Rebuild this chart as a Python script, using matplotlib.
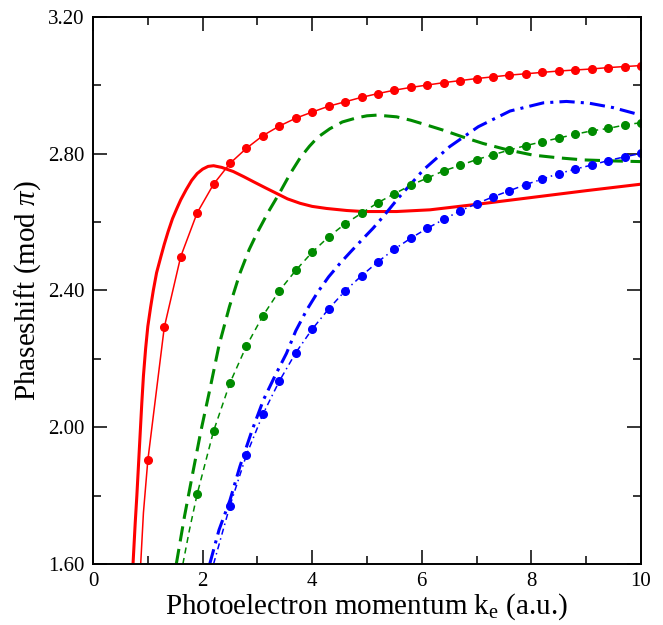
import numpy as np
import matplotlib.pyplot as plt
from matplotlib.ticker import MultipleLocator, FormatStrFormatter

plt.rcParams['font.family'] = ['Liberation Serif', 'DejaVu Serif']
plt.rcParams['mathtext.fontset'] = 'custom'
plt.rcParams['mathtext.rm'] = 'Liberation Serif'
plt.rcParams['mathtext.it'] = 'Liberation Serif:italic'

# momentum grid of the sampled (dotted) curves
k_grid = [1.0, 1.3, 1.6, 1.9, 2.2, 2.5, 2.8, 3.1, 3.4, 3.7,
          4.0, 4.3, 4.6, 4.9, 5.2, 5.5, 5.8, 6.1, 6.4, 6.7,
          7.0, 7.3, 7.6, 7.9, 8.2, 8.5, 8.8, 9.1, 9.4, 9.7, 10.0]

red_pts = [1.903, 2.292, 2.499, 2.627, 2.711, 2.772, 2.816, 2.853, 2.881, 2.904,
           2.922, 2.939, 2.952, 2.965, 2.976, 2.986, 2.994, 3.001, 3.008, 3.014,
           3.020, 3.025, 3.030, 3.034, 3.038, 3.042, 3.045, 3.048, 3.052, 3.055, 3.058]
green_pts = [1.804, 1.989, 2.130, 2.238, 2.326, 2.399, 2.459,
             2.512, 2.557, 2.595, 2.626, 2.657, 2.683, 2.708, 2.729, 2.750, 2.766,
             2.783, 2.797, 2.811, 2.824, 2.835, 2.846, 2.857, 2.867, 2.874, 2.884, 2.891]
blue_pts = [1.771, 1.919, 2.038, 2.135, 2.218,
            2.287, 2.346, 2.399, 2.443, 2.484, 2.521, 2.553, 2.582, 2.608, 2.633,
            2.654, 2.674, 2.692, 2.710, 2.726, 2.742, 2.755, 2.767, 2.780, 2.791, 2.801]

# lower ends of the thin lines, below the first sample
red_tail_k, red_tail_v = [0.87, 0.92], [1.60, 1.75]
green_tail_k, green_tail_v = [1.64, 1.76], [1.60, 1.70]
blue_tail_k, blue_tail_v = [2.20, 2.34], [1.60, 1.68]

# full calculations (thick curves)
red_k = [0.73, 0.77, 0.80, 0.83, 0.86, 0.89, 0.92, 0.96, 1.00, 1.05, 1.10, 1.16,
         1.24, 1.30, 1.37, 1.45, 1.53, 1.60, 1.70, 1.80, 1.90, 2.00, 2.10, 2.20,
         2.35, 2.56, 2.75, 2.93, 3.15, 3.35, 3.55, 3.78, 4.00, 4.26, 4.63, 4.93,
         5.54, 6.15, 7.00, 8.00, 9.00, 10.0]
red_v = [1.60, 1.72, 1.80, 1.89, 1.98, 2.07, 2.15, 2.23, 2.295, 2.35, 2.40, 2.452,
         2.50, 2.535, 2.572, 2.61, 2.64, 2.665, 2.695, 2.722, 2.742, 2.755, 2.763, 2.765,
         2.760, 2.748, 2.733, 2.718, 2.700, 2.684, 2.668, 2.655, 2.646, 2.640, 2.634, 2.631,
         2.631, 2.636, 2.652, 2.672, 2.692, 2.711]

green_k = [1.52, 1.67, 1.82, 1.97, 2.13, 2.30, 2.49, 2.68, 2.85, 2.99, 3.20, 3.41,
           3.60, 3.78, 3.95, 4.10, 4.32, 4.55, 4.81, 5.00, 5.18, 5.54, 5.80, 6.09,
           6.39, 6.75, 7.12, 7.55, 8.03, 8.50, 8.95, 9.50, 10.0]
green_v = [1.60, 1.74, 1.866, 1.99, 2.109, 2.24, 2.353, 2.450, 2.52, 2.567, 2.63, 2.687,
           2.742, 2.788, 2.822, 2.848, 2.873, 2.893, 2.905, 2.911, 2.913, 2.908, 2.898, 2.884,
           2.869, 2.849, 2.830, 2.812, 2.796, 2.788, 2.782, 2.779, 2.777]

blue_k = [2.13, 2.30, 2.50, 2.68, 2.90, 3.11, 3.32, 3.53, 3.70, 3.90, 4.10, 4.30,
          4.50, 4.70, 4.93, 5.11, 5.30, 5.57, 6.03, 6.51, 7.03, 7.61, 8.22, 8.64,
          9.05, 9.49, 10.0]
blue_v = [1.60, 1.70, 1.787, 1.885, 1.99, 2.080, 2.15, 2.216, 2.282, 2.343, 2.395, 2.440,
          2.478, 2.513, 2.552, 2.582, 2.617, 2.670, 2.753, 2.821, 2.879, 2.925, 2.949, 2.953,
          2.948, 2.935, 2.913]

RED, GREEN, BLUE = '#ff0000', '#008b00', '#0000ff'

fig = plt.figure(figsize=(6.63, 6.25), dpi=100)
ax = fig.add_axes([0.1403, 0.0976, 0.8265, 0.8752])

ax.plot(red_k, red_v, color=RED, lw=2.2)
ax.plot(green_k, green_v, color=GREEN, lw=2.2, ls=(0, (5, 2.5)))
ax.plot(blue_k, blue_v, color=BLUE, lw=2.2, ls=(0, (5, 2, 1, 2)))

ax.plot(red_tail_k + k_grid, red_tail_v + red_pts, color=RED, lw=1.1)
ax.plot(k_grid, red_pts, 'o', color=RED, ms=5.5)
ax.plot(green_tail_k + k_grid[3:], green_tail_v + green_pts, color=GREEN, lw=1.1,
        ls=(0, (4, 3)))
ax.plot(k_grid[3:], green_pts, 'o', color=GREEN, ms=5.5)
ax.plot(blue_tail_k + k_grid[5:], blue_tail_v + blue_pts, color=BLUE, lw=1.1,
        ls=(0, (4, 2.5, 1, 2.5)))
ax.plot(k_grid[5:], blue_pts, 'o', color=BLUE, ms=5.5)

ax.set_xlim(0, 10)
ax.set_ylim(1.6, 3.2)
ax.xaxis.set_major_locator(MultipleLocator(2))
ax.xaxis.set_minor_locator(MultipleLocator(1))
ax.yaxis.set_major_locator(MultipleLocator(0.4))
ax.yaxis.set_minor_locator(MultipleLocator(0.2))
ax.yaxis.set_major_formatter(FormatStrFormatter('%.2f'))
ax.tick_params(which='both', direction='in', top=True, right=True, width=1.1,
               labelsize=15)
ax.tick_params(which='major', length=10, pad=6)
ax.tick_params(which='minor', length=5.5)
for s in ax.spines.values():
    s.set_linewidth(1.4)

ax.set_xlabel(r'Photoelectron momentum k$_{\rm e}$ (a.u.)', fontsize=21, labelpad=0)
ax.set_ylabel(r'Phaseshift (mod $\it{\pi}$)', fontsize=21, labelpad=4)

fig.savefig('out.png', dpi=100)
